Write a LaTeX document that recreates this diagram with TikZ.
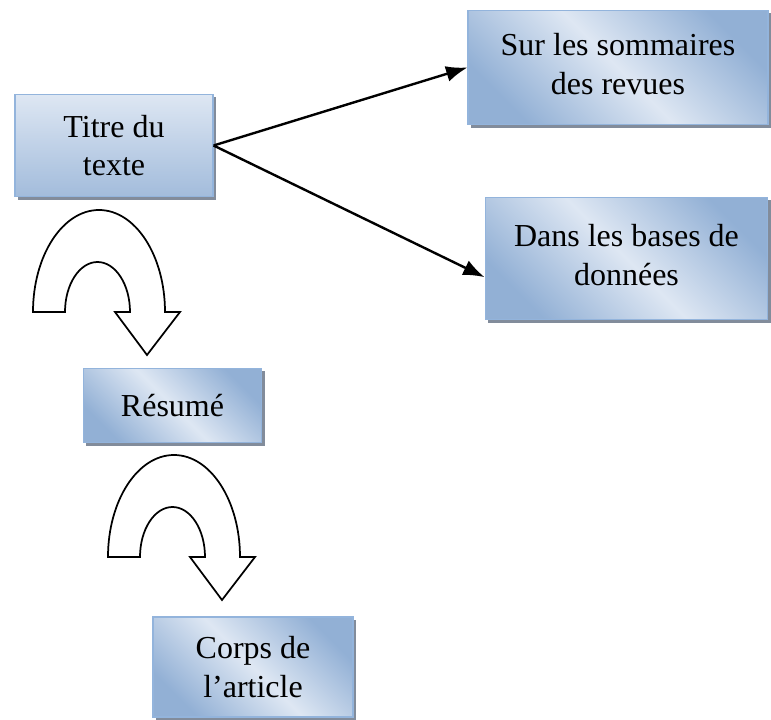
\documentclass[tikz,border=0pt]{standalone}
\usepackage{fontspec}
\setmainfont{Liberation Serif}
\usetikzlibrary{arrows.meta,shadows}
\definecolor{boxdark}{RGB}{146,176,213}
\definecolor{boxlight}{RGB}{222,231,243}
\definecolor{boxline}{RGB}{147,180,220}
\definecolor{boxshadow}{RGB}{130,140,155}
\tikzset{
  box/.style={draw=boxline,line width=0.9pt,inner sep=0pt,align=center,
    font=\fontsize{24}{29}\selectfont,
    drop shadow={shadow xshift=2.2pt,shadow yshift=-2.2pt,fill=boxshadow,opacity=1},
    top color=boxdark,bottom color=boxdark,middle color=boxlight,shading angle=-45},
  flatbox/.style={box,top color=boxlight,bottom color=boxdark!85,
    middle color=boxlight!60!boxdark,shading angle=0},
  link/.style={line width=1.8pt,-{Latex[length=16pt,width=12pt]}},
  uturn/.pic={
    \draw[line width=1.3pt,fill=white,line join=miter]
      (0,0) arc[start angle=180,end angle=360,x radius=66,y radius=102]
      -- (147,0) -- (114,43) -- (82,0) -- (97,0)
      arc[start angle=0,end angle=-180,x radius=32.5,y radius=50] -- cycle;
  }
}
\begin{document}
\begin{tikzpicture}[x=0.75pt,y=-0.75pt]
\useasboundingbox (0,0) rectangle (771,720);
% boxes
\node[flatbox,minimum width=148.5pt,minimum height=77pt] (titre) at (114,145.5) {Titre du\\texte};
\node[box,minimum width=225pt,minimum height=86pt] (sur) at (618,67.5) {Sur les sommaires\\des revues\vphantom{g}};
\node[box,minimum width=212pt,minimum height=92pt] (dans) at (626.5,258.5) {Dans les bases de\\données\vphantom{g}};
\node[box,minimum width=134pt,minimum height=56pt] (resume) at (172.5,405.5) {Résumé};
\node[box,minimum width=150pt,minimum height=75pt] (corps) at (253,667) {Corps de\\l’article};
% links
\draw[link] (titre.east) -- (sur.west);
\draw[link] (titre.east) -- ([yshift=-14pt]dans.west);
% u-turns
\pic at (33,312) {uturn};
\pic at (108,557) {uturn};
\end{tikzpicture}
\end{document}
